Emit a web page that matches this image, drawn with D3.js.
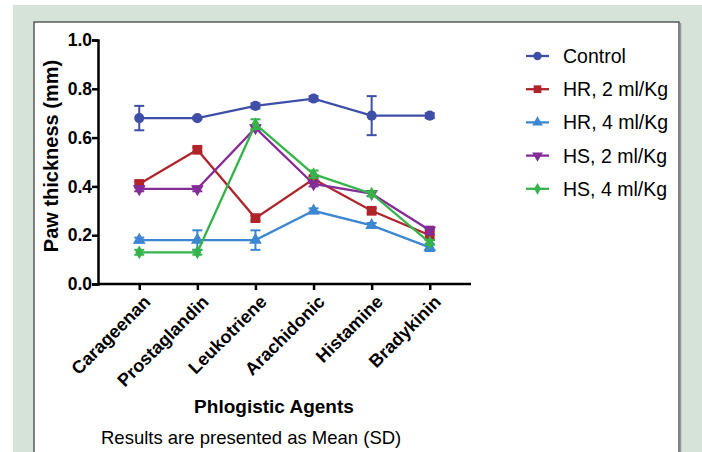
<!DOCTYPE html>
<html>
<head>
<meta charset="utf-8">
<script src="https://cdn.jsdelivr.net/npm/d3@7"></script>
<style>
  body { margin: 0; background: #fff; }
  svg { display: block; font-family: Arial, "Liberation Sans", sans-serif; }
</style>
</head>
<body>
<div class="chart"></div>
<script>
// data
const agents = ['Carageenan', 'Prostaglandin', 'Leukotriene', 'Arachidonic', 'Histamine', 'Bradykinin'];
const groups = ['Control', 'HR, 2 ml/Kg', 'HR, 4 ml/Kg', 'HS, 2 ml/Kg', 'HS, 4 ml/Kg'];
const control = [0.68, 0.68, 0.73, 0.76, 0.69, 0.69];
const hr2 = [0.41, 0.55, 0.27, 0.43, 0.30, 0.20];
const hr4 = [0.18, 0.18, 0.18, 0.30, 0.24, 0.15];
const hs2 = [0.39, 0.39, 0.64, 0.41, 0.37, 0.22];
const hs4 = [0.13, 0.13, 0.655, 0.45, 0.37, 0.17];
const controlSD = [0.05, 0.005, 0.01, 0.01, 0.08, 0.01];
const hr2SD = [0.01, 0.01, 0.01, 0.01, 0.01, 0.02];
const hr4SD = [0.01, 0.04, 0.04, 0.01, 0.01, 0.015];
const hs2SD = [0.01, 0.01, 0.01, 0.01, 0.01, 0.015];
const hs4SD = [0.01, 0.01, 0.02, 0.015, 0.01, 0.01];
const yTicks = [0, 0.2, 0.4, 0.6, 0.8, 1.0];

const colors = ['#3f4fa8', '#b0252b', '#3c86d2', '#852d96', '#36b44b'];
const symbols = [d3.symbolCircle, d3.symbolSquare, d3.symbolTriangle, d3.symbolTriangle, d3.symbolDiamond];
const symSize = [80, 95, 70, 70, 55];
const legSize = [55, 60, 50, 50, 40];

const series = [control, hr2, hr4, hs2, hs4].map((v, k) => ({
    name: groups[k],
    color: colors[k],
    pts: v.map((y, i) => ({ agent: agents[i], y: y, sd: [controlSD, hr2SD, hr4SD, hs2SD, hs4SD][k][i] }))
}));

const W = 702, H = 452;
const svg = d3.select('.chart').append('svg')
    .attr('width', W).attr('height', H);

// page frame
svg.append('rect').attr('x', 13).attr('y', 5).attr('width', W - 13).attr('height', H - 5).attr('fill', '#d5e3d9');
svg.append('rect').attr('x', 34).attr('y', 22).attr('width', 645).attr('height', H).attr('fill', '#fff')
    .attr('stroke', '#444').attr('stroke-width', 1.3);
svg.append('line').attr('x1', 680.5).attr('x2', 680.5).attr('y1', 23).attr('y2', H)
    .attr('stroke', '#999').attr('stroke-width', 1.5);

const x = d3.scalePoint().domain(agents).range([98, 471]).padding(0.71);
const y = d3.scaleLinear().domain([0, 1]).range([284, 40]);

// axes
const yAxis = svg.append('g').attr('transform', 'translate(98,0)')
    .call(d3.axisLeft(y).tickValues(yTicks).tickFormat(d3.format('.1f')).tickSizeOuter(0).tickSize(6).tickPadding(0));
yAxis.select('.domain').attr('stroke-width', 2.5);
yAxis.selectAll('.tick line').attr('stroke-width', 2.5);
yAxis.selectAll('text').style('font-size', '17.5px').style('font-weight', 'bold').attr('fill', '#000');

const xAxis = svg.append('g').attr('transform', 'translate(0,284)')
    .call(d3.axisBottom(x).tickSize(6).tickSizeOuter(0));
xAxis.select('.domain').attr('d', 'M98,0H471').attr('stroke-width', 2.5);
xAxis.selectAll('.tick line').attr('stroke-width', 2.5);
xAxis.selectAll('text')
    .style('font-size', '18px').style('font-weight', 'bold').attr('fill', '#000')
    .attr('text-anchor', 'end')
    .attr('transform', 'rotate(-45)')
    .attr('x', -5).attr('y', 11).attr('dy', '0.6em');

// titles
svg.append('text').attr('transform', 'translate(58,156) rotate(-90)')
    .attr('text-anchor', 'middle').style('font-size', '20px').style('font-weight', 'bold')
    .text('Paw thickness (mm)');
svg.append('text').attr('x', 274).attr('y', 413).attr('text-anchor', 'middle')
    .style('font-size', '19px').style('font-weight', 'bold').text('Phlogistic Agents');
svg.append('text').attr('x', 101).attr('y', 444)
    .style('font-size', '18.5px').text('Results are presented as Mean (SD)');

const line = d3.line().x(d => x(d.agent)).y(d => y(d.y));

function sym(k, sz) {
    return d3.symbol().type(symbols[k]).size(sz[k])();
}
function symTransform(k, cx, cy) {
    return k === 3 ? `translate(${cx},${cy}) rotate(180)` : `translate(${cx},${cy})`;
}

series.forEach((s, k) => {
    const g = svg.append('g');
    g.append('path').datum(s.pts).attr('d', line)
        .attr('fill', 'none').attr('stroke', s.color).attr('stroke-width', 2.3);

    const eb = g.selectAll('.err').data(s.pts).join('g');
    eb.append('line')
        .attr('x1', d => x(d.agent)).attr('x2', d => x(d.agent))
        .attr('y1', d => y(d.y + d.sd)).attr('y2', d => y(d.y - d.sd))
        .attr('stroke', s.color).attr('stroke-width', 2);
    [1, -1].forEach(sg => {
        eb.append('line')
            .attr('x1', d => x(d.agent) - 5).attr('x2', d => x(d.agent) + 5)
            .attr('y1', d => y(d.y + sg * d.sd)).attr('y2', d => y(d.y + sg * d.sd))
            .attr('stroke', s.color).attr('stroke-width', 2);
    });

    g.selectAll('.pt').data(s.pts).join('path')
        .attr('d', sym(k, symSize))
        .attr('transform', d => symTransform(k, x(d.agent), y(d.y)))
        .attr('fill', s.color);
});

// legend
const legend = svg.append('g');
series.forEach((s, k) => {
    const ly = 56 + k * 33.2;
    legend.append('line').attr('x1', 526).attr('x2', 549).attr('y1', ly).attr('y2', ly)
        .attr('stroke', s.color).attr('stroke-width', 2.3);
    legend.append('path').attr('d', sym(k, legSize)).attr('fill', s.color)
        .attr('transform', symTransform(k, 537.5, ly));
    legend.append('text').attr('x', 563).attr('y', ly).attr('dy', '0.36em')
        .style('font-size', '19.5px').text(s.name);
});
</script>
</body>
</html>
